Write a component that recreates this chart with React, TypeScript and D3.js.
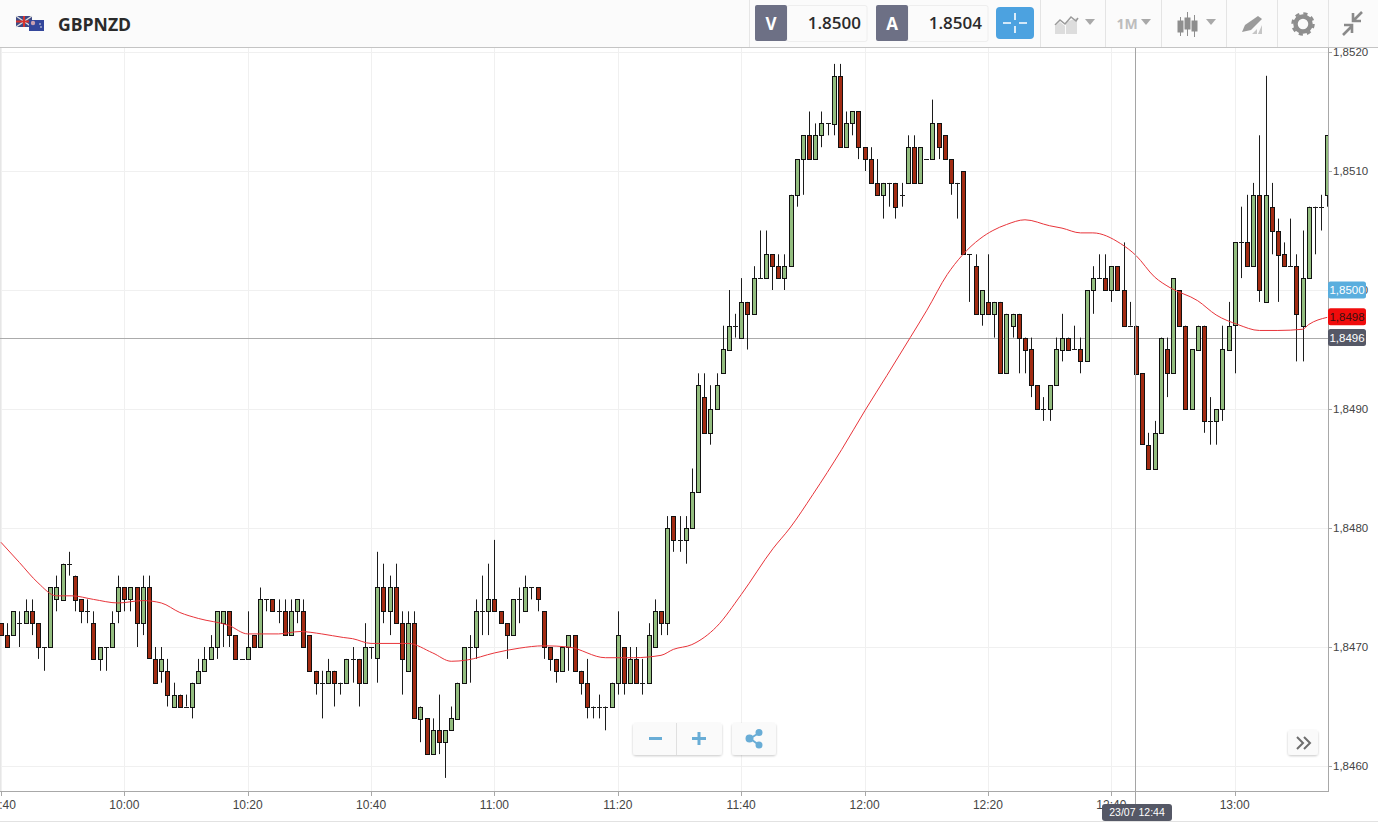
import React from 'react';
import * as d3 from 'd3';

// all candle prices are pips above 1.8400, first candle is 09:40, one per minute
const FIRST_MINUTE = -20; // minutes from 10:00
const opens = [
  72,71,71,72,72,73,72,70,70,74,74,77,76,74,73,72,69,70,70,73,
  75,74,75,72,75,69,68,68,65,66,65,65,67,68,69,70,72,73,71,69,69,71,70,74,74,73,73,71,73,73,
  71,68,67,67,68,67,67,69,69,67,70,69,75,73,75,72,68,72,64,64,61,63,62,63,64,67,70,70,73,73,
  74,73,72,71,74,73,75,75,73,70,69,68,70,71,68,67,65,65,65,65,
  67,70,67,69,67,67,70,73,72,81,79,79,80,83,91,88,90,93,95,97,96,99,98,101,101,103,102,101,102,108,
  111,113,111,113,114,114,118,112,114,115,
  112,111,109,108,109,109,108,109,112,109,111,111,114,113,111,109,110,103,102,98,
  99,98,99,93,97,98,96,95,92,90,90,92,95,96,95,95,94,100,101,101,100,102,100,97,97,93,87,85,88,95,
  93,100,97,90,95,97,89,89,90,95,97,104,104,102,108,99,107,105,103,102,102,97,101,107,107,108,
];
const highs = [
  72,72,73,73,74,74,72,70,75,76,77,78,76,74,74,73,70,70,73,76,
  75,75,75,76,76,70,70,69,67,66,66,67,69,70,71,73,73,73,71,69,73,71,75,74,74,74,74,74,74,74,
  71,68,68,69,68,67,69,70,69,72,70,78,77,76,77,73,73,73,65,64,64,66,63,65,67,70,71,74,76,77,
  79,73,72,74,75,76,75,75,73,70,69,70,71,71,68,69,65,66,65,67,
  73,70,70,70,69,72,74,73,81,81,81,81,85,93,93,92,93,97,100,98,101,99,102,105,105,103,103,103,108,111,
  113,115,114,115,114,119,119,115,115,115,
  112,112,111,109,109,109,109,113,113,112,111,116,114,113,111,109,110,103,103,100,
  103,99,99,98,98,98,96,96,92,91,92,96,98,96,97,96,100,102,103,103,102,102,104,99,97,93,88,89,96,96,
  101,100,97,95,97,97,91,90,97,99,104,107,108,109,113,118,109,106,104,106,103,105,107,107,108,113,
];
const lows = [
  71,70,71,70,72,71,69,68,70,73,74,76,73,72,72,69,68,68,70,72,
  73,73,70,71,69,67,67,65,65,65,65,64,67,68,69,69,70,70,69,69,69,70,70,73,73,72,71,71,72,70,
  68,66,64,67,65,66,67,67,65,67,69,67,72,71,72,66,68,64,62,61,61,61,59,63,64,67,67,69,71,71,
  73,72,69,71,72,73,74,73,69,68,67,68,68,68,66,64,64,64,63,65,
  66,66,67,67,66,67,70,71,71,78,78,77,80,83,88,87,90,93,95,96,96,95,98,101,101,100,101,100,102,107,
  108,111,111,112,113,113,112,112,113,111,
  110,109,108,106,107,106,107,109,109,109,111,111,111,111,108,106,103,99,98,97,
  98,96,93,93,96,93,93,91,90,89,89,92,94,95,95,93,94,98,101,100,99,100,97,97,93,87,85,85,88,91,
  93,97,90,90,95,88,87,87,89,95,93,101,102,102,99,99,103,99,102,102,94,94,101,103,105,107,
];
const closes = [
  71,70,73,72,73,72,70,70,75,75,77,77,74,73,73,69,70,70,72,75,
  74,75,72,75,69,67,69,66,66,65,65,67,68,69,70,73,73,71,69,69,70,70,74,74,73,73,71,73,74,70,
  68,67,67,68,67,67,69,69,67,70,70,75,73,75,72,69,72,64,65,61,63,62,63,64,67,70,70,73,73,74,
  73,72,71,74,74,75,75,74,70,69,68,70,71,68,67,65,65,65,65,67,
  71,67,69,67,67,71,73,72,80,79,79,80,83,92,88,90,92,95,97,97,99,98,101,101,103,102,101,102,108,111,
  113,111,113,114,114,118,112,114,115,112,
  111,109,108,109,109,107,108,112,109,112,111,114,112,111,109,109,103,103,98,100,
  98,99,93,98,98,96,95,92,90,90,92,95,96,95,95,94,100,101,101,100,102,100,97,97,93,87,85,88,96,93,
  101,97,90,95,97,89,89,90,95,97,104,104,102,108,100,108,105,103,102,102,98,101,107,107,107,113,
];

// moving average: minutes from 10:00, pips above 1.8400
const maMinutes = [
  -20,-17,-14,-11,-8.5,-5,-1,3,6,9,12,17,20,25,28.5,32,35.5,37,40,46,50,53,55.5,60,64,68,72,78,82.5,87,
  89,92,96,100,105.2,107.9,111.6,116.3,120.1,123.6,127.4,130.1,133.4,135.8,138.7,140.8,143,146,150,152,155,157,161.5,164,167,169.5,174,177,180.5,
  184,187,191,192,195,
];
const maValues = [
  78.8,77.1,75.4,74.3,74.3,74.0,73.7,73.9,73.7,72.9,72.4,71.8,71.1,71.1,71.3,71.1,70.8,70.7,70.3,70.3,69.5,68.8,68.9,69.5,69.9,70.1,70.0,69.1,69.1,69.3,
  69.8,70.2,71.7,74.4,78.3,80.0,82.8,86.6,89.9,92.8,96.0,98.3,101.3,102.9,104.3,105.0,105.5,105.9,105.4,105.2,104.8,104.8,103.9,102.9,101.1,100.2,99.1,97.9,97.1,
  96.6,96.6,96.7,97.1,97.7,
];

const priceTicks = [1.846, 1.847, 1.848, 1.849, 1.85, 1.851, 1.852];
const timeTicks = [-20, 0, 20, 40, 60, 80, 100, 120, 140, 160, 180];
const crosshairMinute = 164;
const crosshairPrice = 1.8496;
const tagPrices = [1.85, 1.8498, 1.8496];
const tagColors = ['#5aaede', '#f00c0c', '#555866'];
const tagTextColors = ['#fff', '#3a1010', '#fff'];
const tagNudge = [0, 3, 0]; // the red tag gets pushed down so it clears its neighbours

const WIDTH = 1378;
const HEIGHT = 823;
const PLOT_RIGHT = 1328;
const PLOT_TOP = 48;
const PLOT_BOTTOM = 791;

const x = d3.scaleLinear().domain([0, 180]).range([124.3, 1234.7]);
const y = d3.scaleLinear().domain([1.846, 1.852]).range([766, 52]);
const pip = (v: number) => 1.84 + v / 10000;
const crisp = (v: number) => Math.round(v) + 0.5;

const fmtPrice = (v: number) => d3.format('.4f')(v).replace('.', ',');
const fmtTime = (m: number) => {
  const t = 600 + m;
  return `${d3.format('02d')(Math.floor(t / 60))}:${d3.format('02d')(t % 60)}`;
};

const maLine = d3
  .line<number>()
  .x((_, i) => x(maMinutes[i]))
  .y((d) => y(pip(d)))
  .curve(d3.curveMonotoneX);

const AXIS_FONT = '"Liberation Sans", Arial, sans-serif';
const UI_FONT = '"Open Sans", "Noto Sans", sans-serif';

const QuoteBox = ({ left, letter, value }: { left: number; letter: string; value: string }) => (
  <g>
    <rect x={left + 32} y={5.5} width={80} height={36} rx={2} fill="#fbfbfb" stroke="#eeeeee" />
    <rect x={left} y={5} width={32} height={36} rx={2} fill="#6d7085" />
    <text x={left + 16} y={30} textAnchor="middle" fontFamily={UI_FONT} fontWeight={700} fontSize={17} fill="#fff">
      {letter}
    </text>
    <text x={left + 106} y={29} textAnchor="end" fontFamily={UI_FONT} fontWeight={600} fontSize={17} fill="#2b2b2b">
      {value}
    </text>
  </g>
);

const Triangle = ({ cx }: { cx: number }) => (
  <path d={`M${cx - 5},19 h10 l-5,6 z`} fill="#a9a9a9" />
);

const Toolbar = () => (
  <g>
    <rect x={0} y={0} width={WIDTH} height={47} fill="#fbfbfb" />
    <line x1={0} x2={WIDTH} y1={47.5} y2={47.5} stroke="#c4c4c4" />
    {/* flags */}
    <g>
      <rect x={16} y={16} width={16} height={11} fill="#3d4a86" />
      <path d="M16,16 L32,27 M32,16 L16,27" stroke="#ddd" strokeWidth={1.5} />
      <path d="M24,16 V27 M16,21.5 H32" stroke="#d5342f" strokeWidth={2} />
      <rect x={29} y={20} width={15} height={11} fill="#34479b" />
      <circle cx={33} cy={23} r={2.2} fill="#c9a0b0" />
      <circle cx={40} cy={24} r={0.8} fill="#eee" />
      <circle cx={41} cy={27} r={0.8} fill="#eee" />
    </g>
    <text x={58} y={31} fontFamily={UI_FONT} fontWeight={700} fontSize={17.6} fill="#2a2a2a">
      GBPNZD
    </text>
    <line x1={749.5} x2={749.5} y1={0} y2={47} stroke="#e6e6e6" />
    <QuoteBox left={755} letter="V" value="1.8500" />
    <QuoteBox left={876} letter="A" value="1.8504" />
    <rect x={996} y={7} width={38} height={32} rx={4} fill="#4ca2e0" />
    <path d="M1015,13 v7 M1015,26 v7 M1003,23 h8 M1019,23 h8" stroke="#fff" strokeWidth={1.6} />
    {[1040.5, 1105.5, 1161.5, 1226.5, 1277.5, 1328.5].map((v) => (
      <line key={v} x1={v} x2={v} y1={0} y2={47} stroke="#e4e4e4" />
    ))}
    {/* chart type */}
    <path d="M1055,34 v-8 l5,-4 l5,4 v8 z" fill="#dddddd" />
    <path d="M1066,34 v-12 l11,-4 v16 z" fill="#dddddd" />
    <path d="M1055,25 l5,-5 l5,4 l6,-7 l5,4 l2,-3" fill="none" stroke="#9a9a9a" strokeWidth={1.5} />
    <Triangle cx={1090} />
    <text x={1127} y={29} textAnchor="middle" fontFamily={UI_FONT} fontWeight={700} fontSize={14} fill="#bdbdbd">
      1M
    </text>
    <Triangle cx={1146} />
    {/* candles icon */}
    <g fill="#8e8e8e" stroke="#8e8e8e">
      <line x1={1180.5} x2={1180.5} y1={17} y2={36} />
      <line x1={1187.5} x2={1187.5} y1={12} y2={36} />
      <line x1={1194.5} x2={1194.5} y1={15} y2={37} />
      <rect x={1178} y={21} width={5} height={11} />
      <rect x={1185} y={18} width={5} height={11} />
      <rect x={1192} y={21} width={5} height={10} />
    </g>
    <Triangle cx={1211} />
    {/* drawing tool */}
    <path d="M1242,32 l3,-7 l13,-9 l4,3 l-11,11 z" fill="#9b9b9b" />
    <path d="M1252,34 l5,-5 v5 z M1258,34 l4,-9 v9 z" fill="#c6c6c6" />
    {/* gear */}
    <circle cx={1303} cy={24} r={7.5} fill="none" stroke="#8e8e8e" strokeWidth={4.5} />
    <circle cx={1303} cy={24} r={10.5} fill="none" stroke="#8e8e8e" strokeWidth={2.5} strokeDasharray="4.2 4.05" />
    {/* compress */}
    <path d="M1362,12 l-9,9 M1353,13 v8 h8 M1343,35 l9,-9 M1344,25 h8 v8" fill="none" stroke="#8a8a8a" strokeWidth={2.6} />
  </g>
);

const Candles = () => (
  <g>
    {opens.map((o, i) => {
      const cx = crisp(x(FIRST_MINUTE + i));
      const c = closes[i];
      const top = y(pip(Math.max(o, c)));
      const bottom = y(pip(Math.min(o, c)));
      return (
        <g key={i}>
          <line x1={cx} x2={cx} y1={y(pip(highs[i]))} y2={y(pip(lows[i]))} stroke="#1c1c1c" strokeWidth={1} />
          {o === c ? (
            <line x1={cx - 2.5} x2={cx + 2.5} y1={crisp(top)} y2={crisp(top)} stroke="#1c1c1c" strokeWidth={1} />
          ) : (
            <rect
              x={cx - 2}
              y={crisp(top)}
              width={4}
              height={Math.round(bottom - top)}
              fill={c > o ? '#93bd7f' : '#a22b12'}
              stroke="#111"
              strokeWidth={1}
            />
          )}
        </g>
      );
    })}
  </g>
);

const App = () => (
  <svg
    width={WIDTH}
    height={HEIGHT}
    style={{ position: 'fixed', left: 0, top: 0, background: '#fff', display: 'block' }}
  >
    <defs>
      <clipPath id="plot">
        <rect x={0} y={PLOT_TOP} width={PLOT_RIGHT} height={PLOT_BOTTOM - PLOT_TOP} />
      </clipPath>
      <filter id="soft" x="-10%" y="-10%" width="120%" height="130%">
        <feDropShadow dx={0} dy={1} stdDeviation={1.2} floodColor="#000" floodOpacity={0.22} />
      </filter>
    </defs>

    {/* grid */}
    {priceTicks.map((p) => (
      <line key={p} x1={0} x2={PLOT_RIGHT} y1={crisp(y(p))} y2={crisp(y(p))} stroke="#f0f0f0" />
    ))}
    {timeTicks.map((m) => (
      <line key={m} x1={crisp(x(m))} x2={crisp(x(m))} y1={PLOT_TOP} y2={PLOT_BOTTOM} stroke="#f0f0f0" />
    ))}
    <line x1={0.5} x2={0.5} y1={PLOT_TOP} y2={PLOT_BOTTOM} stroke="#e6e6e6" />

    <g clipPath="url(#plot)">
      <line x1={0} x2={PLOT_RIGHT} y1={crisp(y(crosshairPrice))} y2={crisp(y(crosshairPrice))} stroke="#ababab" />
      <Candles />
      <path d={maLine(maValues) ?? ''} fill="none" stroke="#e8343a" strokeWidth={1} />
    </g>
    <line
      x1={crisp(x(crosshairMinute)) - 1}
      x2={crisp(x(crosshairMinute)) - 1}
      y1={PLOT_TOP}
      y2={804}
      stroke="#a5a5a5"
    />

    {/* axes */}
    <line x1={PLOT_RIGHT + 0.5} x2={PLOT_RIGHT + 0.5} y1={PLOT_TOP} y2={PLOT_BOTTOM + 1} stroke="#a8a8a8" />
    <line x1={0} x2={PLOT_RIGHT + 1} y1={PLOT_BOTTOM + 0.5} y2={PLOT_BOTTOM + 0.5} stroke="#a8a8a8" />
    <line x1={0} x2={WIDTH} y1={821.5} y2={821.5} stroke="#e2e2e2" />
    {priceTicks.map((p) => (
      <g key={p}>
        <line x1={PLOT_RIGHT} x2={PLOT_RIGHT + 4} y1={crisp(y(p))} y2={crisp(y(p))} stroke="#a8a8a8" />
        <text x={PLOT_RIGHT + 5} y={y(p) + 4} fontFamily={AXIS_FONT} fontSize={11.5} fill="#444">
          {fmtPrice(p)}
        </text>
      </g>
    ))}
    {timeTicks.map((m) => (
      <g key={m}>
        <line x1={crisp(x(m))} x2={crisp(x(m))} y1={PLOT_BOTTOM} y2={PLOT_BOTTOM + 5} stroke="#a8a8a8" />
        <text x={x(m)} y={809} textAnchor="middle" fontFamily={AXIS_FONT} fontSize={12} fill="#444">
          {fmtTime(m)}
        </text>
      </g>
    ))}

    {/* price tags */}
    {tagPrices.map((p, i) => (
      <g key={p}>
        <rect x={PLOT_RIGHT} y={y(p) + tagNudge[i] - 8.5} width={38} height={17} rx={2.5} fill={tagColors[i]} />
        <text x={PLOT_RIGHT + 19} y={y(p) + tagNudge[i] + 4} textAnchor="middle" fontFamily={AXIS_FONT} fontSize={11.5} fill={tagTextColors[i]}>
          {fmtPrice(p)}
        </text>
      </g>
    ))}
    <rect x={1102} y={804} width={70} height={17} rx={3} fill="#555866" />
    <text x={1137} y={816} textAnchor="middle" fontFamily={AXIS_FONT} fontSize={10.5} fill="#fff">
      23/07 12:44
    </text>

    {/* zoom and share buttons */}
    <g filter="url(#soft)">
      <rect x={633} y={723} width={89} height={32} rx={3} fill="#fafafa" />
      <rect x={732} y={723} width={44} height={32} rx={3} fill="#fafafa" />
      <rect x={1288} y={730} width={30} height={25} rx={3} fill="#fafafa" />
    </g>
    <line x1={676.5} x2={676.5} y1={723} y2={755} stroke="#e0e0e0" />
    <path d="M649,738.5 h13 M692,738.5 h14 M699,732 v13" stroke="#69add6" strokeWidth={3} />
    <g fill="#69add6" stroke="#69add6" strokeWidth={2}>
      <path d="M750,738.5 L759,733 M750,738.5 L759,745" fill="none" />
      <circle cx={749.5} cy={738.5} r={3} />
      <circle cx={759} cy={732.5} r={2.5} />
      <circle cx={759} cy={745} r={2.5} />
    </g>
    <path d="M1297,737 l6,6 l-6,6 M1304,737 l6,6 l-6,6" fill="none" stroke="#6e6e6e" strokeWidth={2} />

    <Toolbar />
  </svg>
);

export default App;
